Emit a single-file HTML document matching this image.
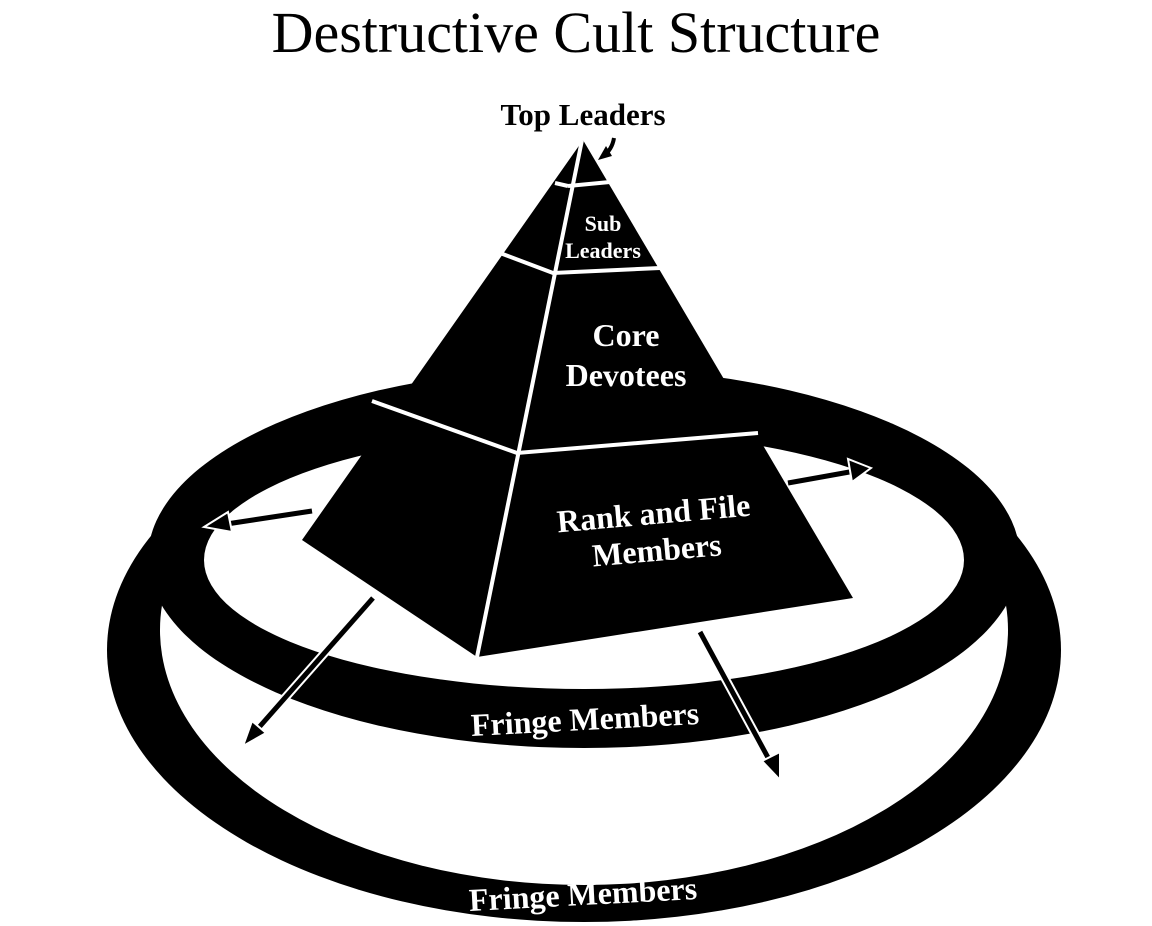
<!DOCTYPE html>
<html><head><meta charset="utf-8"><style>
html,body{margin:0;padding:0;background:#fff;}
svg{display:block;}
</style></head><body>
<svg width="1152" height="926" viewBox="0 0 1152 926" xmlns="http://www.w3.org/2000/svg" font-family="'Liberation Serif', serif">
<text x="576" y="52" font-size="58" text-anchor="middle" fill="#000">Destructive Cult Structure</text>
<text x="583" y="125" font-size="31" font-weight="bold" text-anchor="middle" fill="#000">Top Leaders</text>
<path d="M614,138 Q612,150 603,156" stroke="#000" stroke-width="4" fill="none"/>
<polygon points="598,160 606,146 612,156" fill="#000"/>
<!-- outer ring -->
<ellipse cx="584" cy="650" rx="477" ry="272" fill="#000"/>
<ellipse cx="584" cy="630" rx="424" ry="255" fill="#fff"/>
<!-- upper ring -->
<ellipse cx="584" cy="558" rx="436" ry="190" fill="#000"/>
<ellipse cx="584" cy="560" rx="380" ry="129" fill="#fff"/>
<!-- pyramid -->
<polygon points="583,140 302,540 477,657 853,598" fill="#000"/>
<g stroke="#fff" stroke-width="4" fill="none">
<line x1="582" y1="140" x2="477" y2="657"/>
<line x1="555" y1="183" x2="568" y2="186"/>
<line x1="568" y1="186" x2="610" y2="182"/>
<polyline points="500,253 553,273 660,268"/>
<polyline points="372,401 517,453 758,433"/>
</g>
<text font-size="22" font-weight="bold" fill="#fff" text-anchor="middle"><tspan x="603" y="231">Sub</tspan><tspan x="603" y="258">Leaders</tspan></text>
<text font-size="32" font-weight="bold" fill="#fff" text-anchor="middle"><tspan x="626" y="346">Core</tspan><tspan x="626" y="386">Devotees</tspan></text>
<g transform="rotate(-5 655 530)"><text font-size="32" font-weight="bold" fill="#fff" text-anchor="middle"><tspan x="655" y="524">Rank and File</tspan><tspan x="655" y="561">Members</tspan></text></g>
<g transform="rotate(-3 585 720)"><text x="585" y="730" font-size="32" font-weight="bold" fill="#fff" text-anchor="middle">Fringe Members</text></g>
<g transform="rotate(-3 583 895)"><text x="583" y="905" font-size="32" font-weight="bold" fill="#fff" text-anchor="middle">Fringe Members</text></g>
<!-- arrows -->
<g stroke-linecap="butt">
<line x1="312" y1="511" x2="220" y2="525" stroke="#fff" stroke-width="9"/>
<line x1="312" y1="511" x2="220" y2="525" stroke="#000" stroke-width="5"/>
<polygon points="204,527 228,512 232,532" fill="#000" stroke="#fff" stroke-width="2"/>
<line x1="788" y1="483" x2="855" y2="471" stroke="#fff" stroke-width="9"/>
<line x1="788" y1="483" x2="855" y2="471" stroke="#000" stroke-width="5"/>
<polygon points="871,468 848,459 852,482" fill="#000" stroke="#fff" stroke-width="2"/>
<line x1="373" y1="598" x2="254" y2="733" stroke="#fff" stroke-width="9"/>
<line x1="373" y1="598" x2="254" y2="733" stroke="#000" stroke-width="5"/>
<polygon points="243,746 252,721 266,733" fill="#000" stroke="#fff" stroke-width="2"/>
<line x1="700" y1="632" x2="772" y2="765" stroke="#fff" stroke-width="9"/>
<line x1="700" y1="632" x2="772" y2="765" stroke="#000" stroke-width="5"/>
<polygon points="780,780 762,761 780,752" fill="#000" stroke="#fff" stroke-width="2"/>
</g>
</svg>
</body></html>
